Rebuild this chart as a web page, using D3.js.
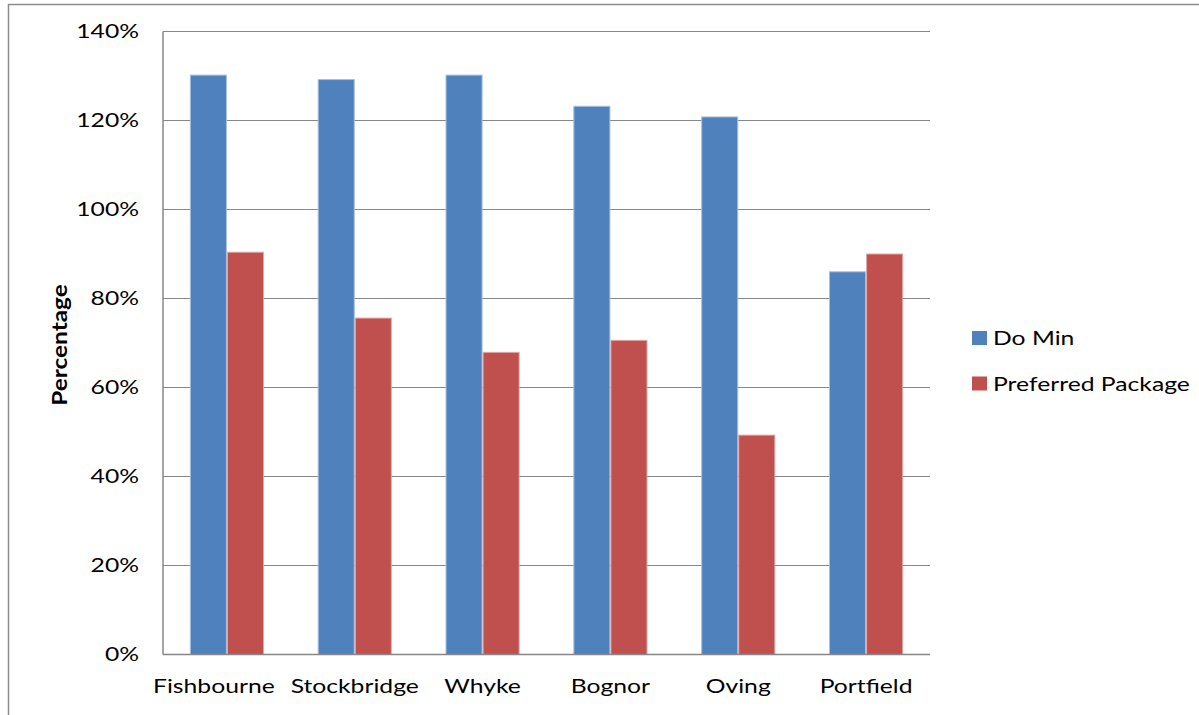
<!DOCTYPE html>
<html>
<head>
<meta charset="utf-8">
<script src="https://cdn.jsdelivr.net/npm/d3@7"></script>
<style>
  html, body { margin: 0; padding: 0; background: #fff; }
  svg { display: block; font-family: Lato, "Open Sans", sans-serif; }
</style>
</head>
<body>
<svg id="chart" width="1199" height="715"></svg>
<script>
// Junction capacity by site (ratio of flow to capacity)
const categories = ["Fishbourne", "Stockbridge", "Whyke", "Bognor", "Oving", "Portfield"];
const seriesNames = ["Do Min", "Preferred Package"];
const doMin = [1.302, 1.292, 1.302, 1.232, 1.208, 0.860];
const preferredPackage = [0.904, 0.756, 0.679, 0.706, 0.493, 0.900];
const yTicks = [0, 0.2, 0.4, 0.6, 0.8, 1.0, 1.2, 1.4];
const colors = ["#4F81BD", "#C0504D"];
const edgeColors = ["#A7C0DE", "#E0A8A6"];

// Text is set in a wide proportion: glyphs are stretched horizontally
const stretch = 1.3;
const fontSize = 19;

const svg = d3.select("#chart");
const plot = { left: 163, right: 930, top: 31.5, bottom: 654.5 };

// Outer chart frame
svg.append("path")
  .attr("d", `M8.5,715 L8.5,4.5 L1199,4.5`)
  .attr("fill", "none")
  .attr("stroke", "#8c8c8c")
  .attr("stroke-width", 1.5);

const x0 = d3.scaleBand().domain(categories).range([plot.left, plot.right]).paddingInner(0.42).paddingOuter(0.21);
const x1 = d3.scaleBand().domain(seriesNames).range([0, x0.bandwidth()]);
const y = d3.scaleLinear().domain([0, 1.4]).range([plot.bottom, plot.top]);

// Horizontal gridlines
svg.append("g").selectAll("line").data(yTicks.filter(t => t > 0)).join("line")
  .attr("x1", plot.left).attr("x2", plot.right)
  .attr("y1", d => y(d)).attr("y2", d => y(d))
  .attr("stroke", "#878787").attr("stroke-width", 1);

// Y axis labels
const pad = 24;
const yAxis = d3.axisLeft(y).tickValues(yTicks).tickFormat(d3.format(".0%")).tickSize(0).tickPadding(pad);
const gy = svg.append("g").attr("transform", `translate(${plot.left},0)`).call(yAxis);
gy.select(".domain").remove();
gy.selectAll("text")
  .attr("font-size", fontSize).attr("fill", "#000").attr("font-family", "Lato, sans-serif")
  .attr("transform", `translate(${-pad},0) scale(${stretch},1) translate(${pad},0)`);

// Bars
const data = categories.map((c, i) => ({ cat: c, vals: [doMin[i], preferredPackage[i]] }));
const groups = svg.append("g").selectAll("g").data(data).join("g")
  .attr("transform", d => `translate(${x0(d.cat)},0)`);
groups.selectAll("rect").data(d => d.vals.map((v, j) => ({ v, j }))).join("rect")
  .attr("x", d => x1(seriesNames[d.j]) + 0.5)
  .attr("width", x1.bandwidth() - 1)
  .attr("y", d => y(d.v))
  .attr("height", d => y(0) - y(d.v))
  .attr("fill", d => colors[d.j])
  .attr("stroke", d => edgeColors[d.j])
  .attr("stroke-width", 1);

// Axis lines
svg.append("line").attr("x1", plot.left).attr("x2", plot.left).attr("y1", plot.top).attr("y2", plot.bottom)
  .attr("stroke", "#878787").attr("stroke-width", 1.5);
svg.append("line").attr("x1", plot.left).attr("x2", plot.right).attr("y1", plot.bottom).attr("y2", plot.bottom)
  .attr("stroke", "#878787").attr("stroke-width", 1.5);

// Category labels
const xAxis = d3.axisBottom(x0).tickSize(0).tickPadding(25);
const gx = svg.append("g").attr("transform", `translate(0,${plot.bottom})`).call(xAxis);
gx.select(".domain").remove();
const labels = gx.selectAll("text")
  .attr("font-size", fontSize).attr("fill", "#000").attr("font-family", "Lato, sans-serif")
  .attr("transform", `scale(${stretch},1)`);

// Nudge the first label left so it keeps a clear gap from its neighbour
const minGap = 16;
const labelNodes = labels.nodes();
if (labelNodes.length > 1) {
  const w0 = labelNodes[0].getComputedTextLength() * stretch;
  const w1 = labelNodes[1].getComputedTextLength() * stretch;
  const c0 = x0(categories[0]) + x0.bandwidth() / 2;
  const c1 = x0(categories[1]) + x0.bandwidth() / 2;
  const overlap = (c0 + w0 / 2 + minGap) - (c1 - w1 / 2);
  if (overlap > 0) {
    d3.select(labelNodes[0]).attr("transform", `translate(${-overlap},0) scale(${stretch},1)`);
  }
}

// Y axis title
svg.append("text")
  .attr("transform", `translate(67,${(plot.top + plot.bottom) / 2 + 2}) rotate(-90) scale(1.22,1)`)
  .attr("text-anchor", "middle")
  .attr("font-size", 20).attr("font-weight", "bold")
  .text("Percentage");

// Legend
const legend = svg.append("g").attr("transform", "translate(972,331)");
seriesNames.forEach((name, i) => {
  const g = legend.append("g").attr("transform", `translate(0,${i * 45.5})`);
  g.append("rect").attr("width", 15).attr("height", 14).attr("fill", colors[i]);
  g.append("text").attr("transform", `translate(21,14) scale(${stretch},1)`)
    .attr("font-size", fontSize).text(name);
});
</script>
</body>
</html>
